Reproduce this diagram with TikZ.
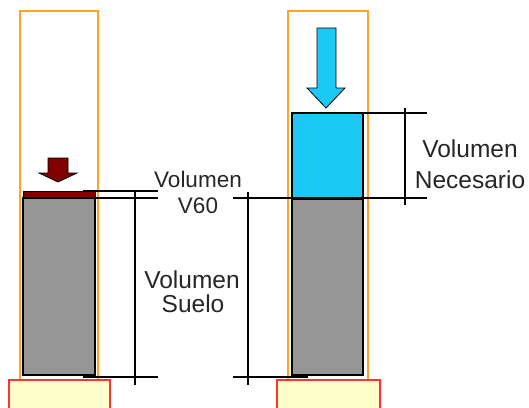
\documentclass[tikz,border=0pt]{standalone}
\usepackage{fontspec}
\setmainfont{Liberation Sans}
\definecolor{tubeor}{HTML}{FFA526}
\definecolor{soilgray}{HTML}{969696}
\definecolor{darkred}{HTML}{800000}
\definecolor{waterblue}{HTML}{1CC8F4}
\definecolor{padfill}{HTML}{FFFFCC}
\definecolor{padline}{HTML}{FF3333}
\tikzset{
  tube/.style={draw=tubeor, line width=1.4pt},
  soil/.style={draw=black, fill=soilgray, line width=1.4pt},
  pad/.style={draw=padline, fill=padfill, line width=1.4pt},
  dimline/.style={draw=black, line width=1.1pt},
  arrowshape/.style={draw=black, line width=0.8pt, line join=miter},
  lab/.style={align=center, text=black!85, inner sep=0pt}
}
\begin{document}
\begin{tikzpicture}[x=1pt,y=-1pt]
\useasboundingbox (0,0) rectangle (529,407);
\clip (0,0) rectangle (529,407);
% tubes
\draw[tube] (20,11) rectangle (98,380);
\draw[tube] (288,11) rectangle (368,380);
% left column
\fill[soil] (23,198) rectangle (95,375);
\draw[draw=black, fill=darkred, line width=1pt] (23,191) rectangle (95,198);
\draw[arrowshape, fill=darkred] (48,158) -- (68,158) -- (68,173) -- (77,173) -- (58,182) -- (39,173) -- (48,173) -- cycle;
% right column
\fill[soil] (292,199) rectangle (363,375);
\draw[draw=black, fill=waterblue, line width=1.4pt] (292,113) rectangle (363,199);
\draw[arrowshape, fill=waterblue] (317,28) -- (336,28) -- (336,88) -- (345,88) -- (326,108) -- (307,88) -- (317,88) -- cycle;
\draw[soil, fill=none] (292,199) rectangle (363,375);
\draw[soil, fill=none] (23,198) rectangle (95,375);
% pads
\draw[pad] (9,380) rectangle (110,412);
\draw[pad] (277,380) rectangle (380,412);
% dimension lines left
\coordinate (lt1a) at (83,191); \coordinate (lt1b) at (158,191);
\coordinate (lt2a) at (95,198); \coordinate (lt2b) at (158,198);
\coordinate (lba) at (83,377); \coordinate (lbb) at (158,377);
\coordinate (lva) at (135,192); \coordinate (lvb) at (135,385);
\draw[dimline] (lt1a) -- (lt1b);
\draw[dimline] (lt2a) -- (lt2b);
\draw[dimline] (lba) -- (lbb);
\draw[dimline] (lva) -- (lvb);
% dimension lines middle/right of soil
\coordinate (rt2a) at (233,198); \coordinate (rt2b) at (427,198);
\coordinate (rba) at (233,377); \coordinate (rbb) at (308,377);
\coordinate (rva) at (248,192); \coordinate (rvb) at (248,385);
\draw[dimline] (rt2a) -- (rt2b);
\draw[dimline] (rba) -- (rbb);
\draw[dimline] (rva) -- (rvb);
% dimension lines for volumen necesario
\coordinate (nta) at (362,113); \coordinate (ntb) at (427,113);
\coordinate (nva) at (405,108); \coordinate (nvb) at (405,205);
\draw[dimline] (nta) -- (ntb);
\draw[dimline] (nva) -- (nvb);
% labels
\node[lab, font=\fontsize{22.5}{26}\selectfont, anchor=base] (v60a) at (198,187) {Volumen};
\node[lab, font=\fontsize{22.5}{26}\selectfont, anchor=base] (v60b) at (198,213) {V60};
\node[lab, font=\fontsize{24.5}{26}\selectfont, anchor=base] (sa) at (192,288) {Volumen};
\node[lab, font=\fontsize{24.5}{26}\selectfont, anchor=base] (sb) at (193,312) {Suelo};
\node[lab, font=\fontsize{24.5}{26}\selectfont, anchor=base] (na) at (470,157) {Volumen};
\node[lab, font=\fontsize{24.5}{26}\selectfont, anchor=base] (nb) at (470,188) {Necesario};
\end{tikzpicture}
\end{document}
